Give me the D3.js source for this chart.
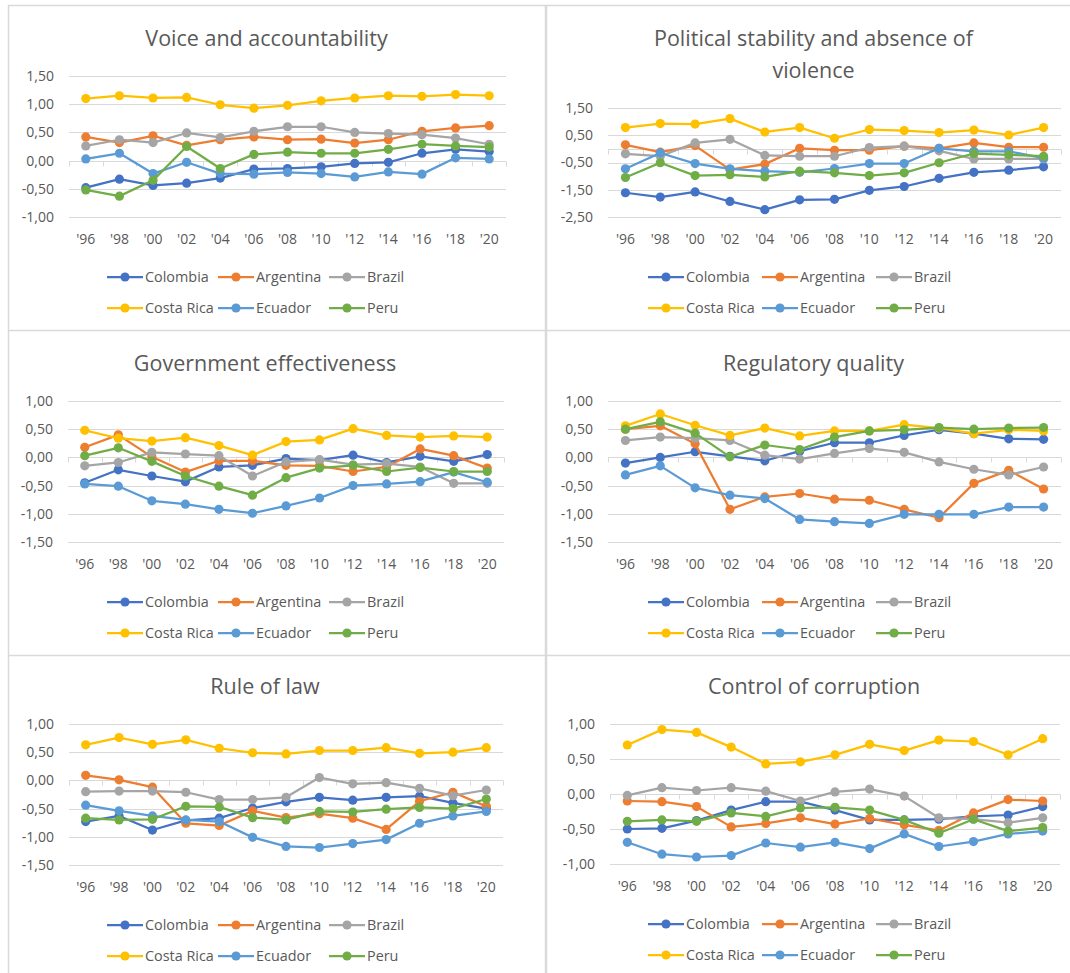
<!DOCTYPE html>
<html lang="en">
<head>
<meta charset="UTF-8">
<title>Governance indicators</title>
<script src="https://d3js.org/d3.v7.min.js"></script>
<style>
    body { margin: 0; background: #fff; }
    svg { display: block; font-family: "Open Sans", sans-serif; }
    .title { font-size: 21.5px; fill: #595959; text-anchor: middle; }
    .tick-label { font-size: 14px; fill: #595959; }
    .legend text { font-size: 14.4px; fill: #595959; }
    .grid { stroke: #d9d9d9; stroke-width: 1; }
</style>
</head>
<body>
<div id="chart"></div>
<script>
const years = ["'96", "'98", "'00", "'02", "'04", "'06", "'08", "'10", "'12", "'14", "'16", "'18", "'20"];
const countries = ["Colombia", "Argentina", "Brazil", "Costa Rica", "Ecuador", "Peru"];
const colors = ["#4472C4", "#ED7D31", "#A5A5A5", "#FFC000", "#5B9BD5", "#70AD47"];

// one row per country, same order as countries
const voice = [
    [-0.48, -0.33, -0.44, -0.40, -0.31, -0.15, -0.14, -0.11, -0.05, -0.03, 0.13, 0.20, 0.16],
    [0.42, 0.32, 0.44, 0.27, 0.37, 0.42, 0.37, 0.38, 0.31, 0.37, 0.52, 0.58, 0.62],
    [0.26, 0.37, 0.32, 0.49, 0.41, 0.52, 0.60, 0.60, 0.50, 0.48, 0.46, 0.40, 0.29],
    [1.10, 1.15, 1.11, 1.12, 0.99, 0.93, 0.98, 1.06, 1.11, 1.15, 1.14, 1.17, 1.15],
    [0.03, 0.13, -0.23, -0.03, -0.23, -0.24, -0.21, -0.23, -0.29, -0.20, -0.24, 0.05, 0.03],
    [-0.52, -0.63, -0.35, 0.25, -0.14, 0.11, 0.15, 0.13, 0.13, 0.20, 0.29, 0.26, 0.24]
];
const stability = [
    [-1.61, -1.77, -1.58, -1.93, -2.23, -1.87, -1.85, -1.52, -1.38, -1.08, -0.86, -0.78, -0.66],
    [0.15, -0.12, 0.12, -0.76, -0.56, 0.02, -0.05, -0.05, 0.10, 0.02, 0.22, 0.06, 0.06],
    [-0.18, -0.27, 0.22, 0.35, -0.24, -0.27, -0.27, 0.05, 0.10, -0.07, -0.37, -0.37, -0.37],
    [0.78, 0.93, 0.91, 1.11, 0.62, 0.78, 0.39, 0.71, 0.67, 0.60, 0.69, 0.51, 0.78],
    [-0.73, -0.15, -0.54, -0.73, -0.82, -0.86, -0.72, -0.54, -0.54, 0.02, -0.09, -0.09, -0.34],
    [-1.05, -0.51, -0.98, -0.95, -1.03, -0.82, -0.88, -0.98, -0.88, -0.51, -0.17, -0.22, -0.27]
];
const effectiveness = [
    [-0.45, -0.22, -0.33, -0.43, -0.17, -0.14, -0.02, -0.05, 0.04, -0.09, 0.02, -0.07, 0.05],
    [0.18, 0.40, 0.01, -0.26, -0.06, -0.06, -0.14, -0.15, -0.25, -0.17, 0.15, 0.03, -0.19],
    [-0.15, -0.09, 0.09, 0.06, 0.03, -0.33, -0.08, -0.04, -0.13, -0.11, -0.17, -0.46, -0.46],
    [0.48, 0.34, 0.29, 0.35, 0.21, 0.04, 0.28, 0.31, 0.51, 0.39, 0.36, 0.38, 0.36],
    [-0.47, -0.51, -0.77, -0.83, -0.92, -0.99, -0.86, -0.72, -0.50, -0.47, -0.43, -0.26, -0.44],
    [0.03, 0.17, -0.07, -0.33, -0.51, -0.67, -0.36, -0.19, -0.14, -0.25, -0.18, -0.25, -0.25]
];
const regulatory = [
    [-0.10, 0.00, 0.10, 0.02, -0.06, 0.11, 0.26, 0.26, 0.39, 0.49, 0.42, 0.33, 0.32],
    [0.50, 0.56, 0.24, -0.92, -0.70, -0.64, -0.74, -0.76, -0.92, -1.07, -0.46, -0.23, -0.56],
    [0.30, 0.36, 0.34, 0.30, 0.04, -0.03, 0.07, 0.16, 0.09, -0.08, -0.21, -0.31, -0.17],
    [0.56, 0.77, 0.57, 0.39, 0.52, 0.38, 0.47, 0.47, 0.58, 0.52, 0.42, 0.49, 0.47],
    [-0.31, -0.15, -0.54, -0.67, -0.73, -1.10, -1.14, -1.17, -1.01, -1.01, -1.01, -0.88, -0.88],
    [0.50, 0.63, 0.43, 0.01, 0.22, 0.14, 0.36, 0.47, 0.49, 0.53, 0.50, 0.52, 0.53]
];
const ruleOfLaw = [
    [-0.73, -0.63, -0.88, -0.71, -0.67, -0.49, -0.38, -0.30, -0.35, -0.30, -0.28, -0.40, -0.50],
    [0.09, 0.01, -0.12, -0.76, -0.80, -0.54, -0.66, -0.59, -0.67, -0.87, -0.37, -0.21, -0.46],
    [-0.20, -0.19, -0.19, -0.21, -0.34, -0.34, -0.30, 0.05, -0.06, -0.04, -0.14, -0.27, -0.17],
    [0.63, 0.76, 0.64, 0.72, 0.57, 0.49, 0.47, 0.53, 0.53, 0.58, 0.48, 0.50, 0.58],
    [-0.44, -0.54, -0.63, -0.70, -0.73, -1.01, -1.17, -1.19, -1.12, -1.05, -0.76, -0.63, -0.55],
    [-0.67, -0.70, -0.69, -0.46, -0.47, -0.66, -0.70, -0.55, -0.56, -0.51, -0.48, -0.50, -0.33]
];
const corruption = [
    [-0.50, -0.49, -0.38, -0.23, -0.11, -0.11, -0.23, -0.37, -0.37, -0.36, -0.32, -0.30, -0.18],
    [-0.10, -0.11, -0.18, -0.47, -0.42, -0.34, -0.43, -0.35, -0.44, -0.52, -0.27, -0.08, -0.10],
    [-0.02, 0.09, 0.05, 0.09, 0.04, -0.10, 0.03, 0.07, -0.03, -0.34, -0.36, -0.41, -0.34],
    [0.70, 0.92, 0.88, 0.67, 0.43, 0.46, 0.56, 0.71, 0.62, 0.77, 0.75, 0.56, 0.79],
    [-0.69, -0.86, -0.90, -0.88, -0.70, -0.76, -0.69, -0.78, -0.57, -0.75, -0.68, -0.57, -0.53],
    [-0.39, -0.37, -0.39, -0.27, -0.32, -0.20, -0.19, -0.23, -0.37, -0.56, -0.36, -0.53, -0.48]
];

const ticksA = [-1.5, -1, -0.5, 0, 0.5, 1];
const ticksVoice = [-1, -0.5, 0, 0.5, 1, 1.5];
const ticksStability = [-2.5, -1.5, -0.5, 0.5, 1.5];
const ticksCorruption = [-1, -0.5, 0, 0.5, 1];

// layout of the six boxes
const panels = [
    { title: ["Voice and accountability"], data: voice, ticks: ticksVoice,
      left: 69, right: 506, top: 76, bottom: 217, titleY: 38, legX: 107, legStep: 111 },
    { title: ["Political stability and absence of", "violence"], data: stability, ticks: ticksStability,
      left: 608, right: 1061, top: 108, bottom: 217, titleY: 38, legX: 648, legStep: 114 },
    { title: ["Government effectiveness"], data: effectiveness, ticks: ticksA,
      left: 68, right: 504, top: 401, bottom: 542, titleY: 363, legX: 107, legStep: 111 },
    { title: ["Regulatory quality"], data: regulatory, ticks: ticksA,
      left: 608, right: 1061, top: 401, bottom: 542, titleY: 363, legX: 648, legStep: 114 },
    { title: ["Rule of law"], data: ruleOfLaw, ticks: ticksA,
      left: 69, right: 503, top: 724, bottom: 865, titleY: 686, legX: 107, legStep: 111 },
    { title: ["Control of corruption"], data: corruption, ticks: ticksCorruption,
      left: 610, right: 1060, top: 724, bottom: 864, titleY: 686, legX: 648, legStep: 114 }
];

const fmt = v => (v < 0 ? "-" : "") + Math.abs(v).toFixed(2).replace(".", ",");

const svg = d3.select("#chart").append("svg")
    .attr("width", 1070)
    .attr("height", 973);

// panel borders
const border = svg.append("g").attr("stroke", "#d9d9d9").attr("stroke-width", 1.5).attr("fill", "none");
border.append("rect").attr("x", 8.5).attr("y", 5.5).attr("width", 537).attr("height", 1000);
border.append("rect").attr("x", 546.5).attr("y", 5.5).attr("width", 540).attr("height", 1000);
border.append("line").attr("x1", 8).attr("x2", 1070).attr("y1", 330.5).attr("y2", 330.5);
border.append("line").attr("x1", 8).attr("x2", 1070).attr("y1", 655.5).attr("y2", 655.5);

panels.forEach(p => {
    const g = svg.append("g");

    const x = d3.scaleBand().domain(years).range([p.left, p.right]);
    const y = d3.scaleLinear()
        .domain(d3.extent(p.ticks))
        .range([p.bottom, p.top]);

    // title, centred a bit left of the plot area like the original
    const tx = (p.left + p.right) / 2 - 21;
    g.append("text").attr("class", "title")
        .attr("x", tx)
        .attr("y", p.titleY)
        .selectAll("tspan")
        .data(p.title)
        .join("tspan")
        .attr("x", tx)
        .attr("dy", (d, i) => i === 0 ? "0.35em" : "1.5em")
        .text(d => d);

    // grid lines
    g.selectAll(".grid")
        .data(p.ticks)
        .join("line")
        .attr("class", "grid")
        .attr("x1", p.left).attr("x2", p.right)
        .attr("y1", d => Math.round(y(d)) + 0.5)
        .attr("y2", d => Math.round(y(d)) + 0.5);

    // horizontal axis at zero with tick marks between categories
    const y0 = Math.round(y(0)) + 0.5;
    g.append("line").attr("class", "grid")
        .attr("x1", p.left).attr("x2", p.right)
        .attr("y1", y0).attr("y2", y0);
    const bounds = years.map(d => x(d)).concat([p.right]);
    g.selectAll(".xtick")
        .data(bounds)
        .join("line")
        .attr("class", "grid")
        .attr("x1", d => Math.round(d) + 0.5).attr("x2", d => Math.round(d) + 0.5)
        .attr("y1", y0).attr("y2", y0 + 5);

    // y tick labels
    g.selectAll(".ylab")
        .data(p.ticks)
        .join("text")
        .attr("class", "tick-label")
        .attr("x", p.left - 15)
        .attr("y", d => y(d))
        .attr("dy", "0.35em")
        .attr("text-anchor", "end")
        .text(fmt);

    // x tick labels
    g.selectAll(".xlab")
        .data(years)
        .join("text")
        .attr("class", "tick-label")
        .attr("x", d => x(d) + x.bandwidth() / 2)
        .attr("y", p.bottom + 22)
        .attr("dy", "0.35em")
        .attr("text-anchor", "middle")
        .text(d => d);

    // series
    const line = d3.line()
        .x((d, i) => x(years[i]) + x.bandwidth() / 2)
        .y(d => y(d));

    p.data.forEach((vals, k) => {
        const s = g.append("g");
        s.append("path")
            .attr("d", line(vals))
            .attr("fill", "none")
            .attr("stroke", colors[k])
            .attr("stroke-width", 2.25)
            .attr("stroke-linejoin", "round");
        s.selectAll("circle")
            .data(vals)
            .join("circle")
            .attr("cx", (d, i) => x(years[i]) + x.bandwidth() / 2)
            .attr("cy", d => y(d))
            .attr("r", 4.6)
            .attr("fill", colors[k]);
    });

    // legend, two rows of three
    const legend = g.append("g").attr("class", "legend");
    countries.forEach((c, k) => {
        const lx = p.legX + (k % 3) * p.legStep;
        const ly = p.bottom + 60 + Math.floor(k / 3) * 31;
        const item = legend.append("g");
        item.append("line")
            .attr("x1", lx).attr("x2", lx + 36)
            .attr("y1", ly).attr("y2", ly)
            .attr("stroke", colors[k]).attr("stroke-width", 2.25);
        item.append("circle")
            .attr("cx", lx + 18).attr("cy", ly).attr("r", 4.6)
            .attr("fill", colors[k]);
        item.append("text")
            .attr("x", lx + 38).attr("y", ly)
            .attr("dy", "0.35em")
            .text(c);
    });
});
</script>
</body>
</html>
